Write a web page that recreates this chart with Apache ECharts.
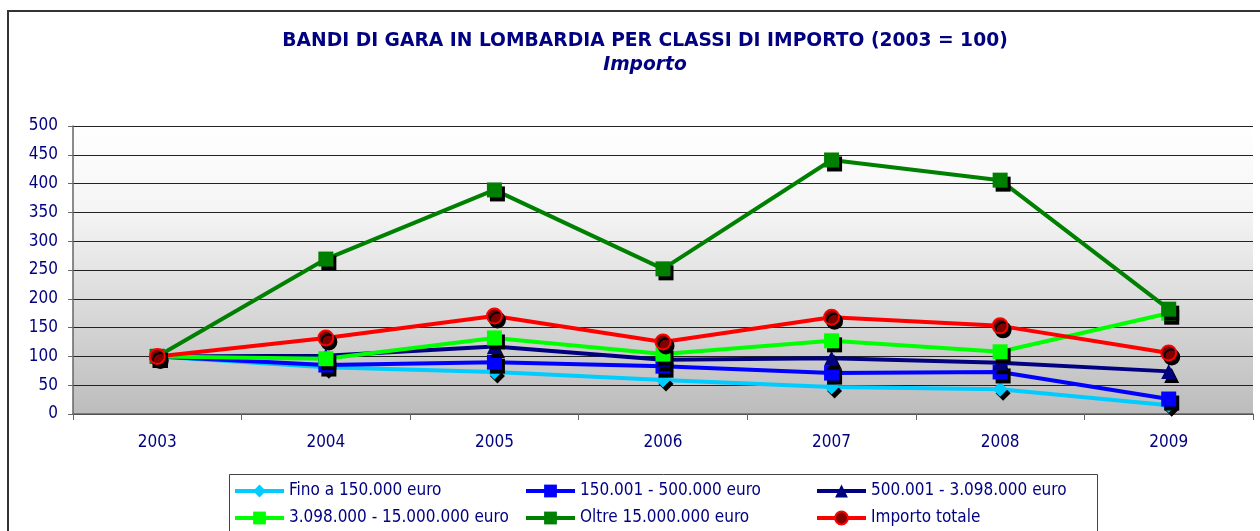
<!DOCTYPE html>
<html>
<head>
<meta charset="utf-8">
<script src="https://cdn.jsdelivr.net/npm/echarts@6/dist/echarts.min.js"></script>
<style>
  html, body { margin: 0; padding: 0; background: #fff; }
  #chart { width: 1260px; height: 531px; }
</style>
</head>
<body>
<div id="chart"></div>
<script>
// Anni e indici (2003 = 100) per classe di importo
const years = ['2003', '2004', '2005', '2006', '2007', '2008', '2009'];
const fino150 = [100, 81, 73, 59, 47, 43, 15];
const da150a500 = [100, 85, 90, 83, 71, 73, 26];
const da500a3098 = [100, 101, 117, 94, 97, 89, 74];
const da3098a15000 = [100, 96, 132, 104, 127, 108, 175];
const oltre15000 = [100, 269, 389, 252, 441, 406, 182];
const importoTotale = [100, 132, 170, 125, 168, 153, 106];
const yTicks = [0, 50, 100, 150, 200, 250, 300, 350, 400, 450, 500];

const FONT = '"DejaVu Sans Condensed", "DejaVu Sans", sans-serif';
const TITLE_FONT = '"DejaVu Sans", sans-serif';
const NAVY = '#000080';

const shadow = { shadowColor: '#000', shadowBlur: 0, shadowOffsetX: 3, shadowOffsetY: 4 };

function serie(name, data, color, symbol, size, fill, border) {
  return {
    name, type: 'line', data,
    symbol, symbolSize: size,
    lineStyle: { color, width: 4 },
    itemStyle: Object.assign({ color: fill || color, borderColor: border || color, borderWidth: border ? 2 : 0 }, shadow),
    emphasis: { disabled: true },
    animation: false
  };
}

const chart = echarts.init(document.getElementById('chart'));
chart.setOption({
  animation: false,
  backgroundColor: '#ffffff',
  title: {
    text: 'BANDI DI GARA IN LOMBARDIA PER CLASSI DI IMPORTO (2003 = 100)',
    subtext: 'Importo',
    left: 640, top: 27, itemGap: 5, textAlign: 'center',
    textStyle: { fontFamily: TITLE_FONT, fontWeight: 'bold', fontSize: 18.7, color: NAVY },
    subtextStyle: { fontFamily: TITLE_FONT, fontWeight: 'bold', fontStyle: 'italic', fontSize: 18.7, color: NAVY }
  },
  grid: {
    left: 73, right: 7, top: 126, bottom: 117, show: true, borderWidth: 0,
    backgroundColor: {
      type: 'linear', x: 0, y: 0, x2: 0, y2: 1,
      colorStops: [
        { offset: 0, color: '#ffffff' },
        { offset: 0.3, color: '#f4f4f4' },
        { offset: 1, color: '#bcbcbc' }
      ]
    }
  },
  xAxis: {
    type: 'category', data: years, boundaryGap: true,
    axisLine: { show: true, lineStyle: { color: '#666', width: 1.5 } },
    axisTick: { show: true, length: 6, lineStyle: { color: '#666' }, alignWithLabel: false },
    axisLabel: { fontFamily: FONT, fontSize: 17, color: NAVY, margin: 20 },
    splitLine: { show: false }
  },
  yAxis: {
    type: 'value', min: 0, max: 500, interval: 50,
    axisLine: { show: true, lineStyle: { color: '#666', width: 1.5 } },
    axisTick: { show: true, length: 5, lineStyle: { color: '#666' } },
    axisLabel: {
      fontFamily: FONT, fontSize: 17, color: NAVY, margin: 15,
      formatter: v => (yTicks.includes(v) ? String(v) : '')
    },
    splitLine: { show: true, lineStyle: { color: '#222', width: 1 } }
  },
  legend: {
    left: 233, top: 480, width: 870, padding: 0,
    itemWidth: 49, itemHeight: 16, itemGap: 5,
    lineStyle: { width: 4 },
    textStyle: { fontFamily: FONT, fontSize: 17, color: NAVY, width: 230, lineHeight: 22 },
    data: ['Fino a 150.000 euro', '150.001 - 500.000 euro', '500.001 - 3.098.000 euro',
           '3.098.000 - 15.000.000 euro', 'Oltre 15.000.000 euro', 'Importo totale']
  },
  graphic: [
    { type: 'rect', shape: { x: 8, y: 11, width: 1400, height: 700 }, style: { fill: 'none', stroke: '#333', lineWidth: 2 }, silent: true, z: 100 },
    { type: 'rect', shape: { x: 229.5, y: 474.5, width: 868, height: 100 }, style: { fill: 'none', stroke: '#444', lineWidth: 1 }, silent: true, z: 100 }
  ],
  series: [
    serie('Fino a 150.000 euro', fino150, '#00ccff', 'diamond', 15),
    serie('150.001 - 500.000 euro', da150a500, '#0000ff', 'rect', 15),
    serie('500.001 - 3.098.000 euro', da500a3098, '#000080', 'triangle', 15),
    serie('3.098.000 - 15.000.000 euro', da3098a15000, '#00ff00', 'rect', 15),
    serie('Oltre 15.000.000 euro', oltre15000, '#008000', 'rect', 15),
    serie('Importo totale', importoTotale, '#ff0000', 'circle', 15, '#800000', '#ff0000')
  ]
});
</script>
</body>
</html>
